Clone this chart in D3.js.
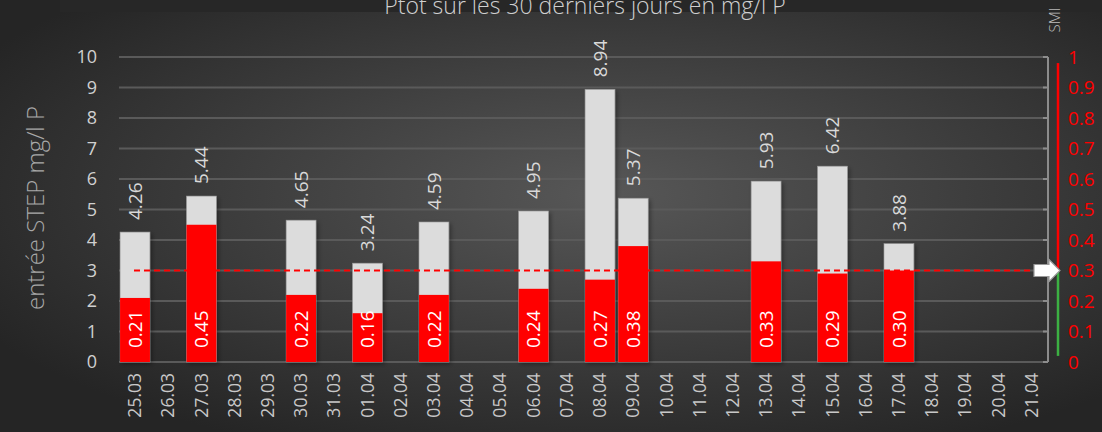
<!DOCTYPE html>
<html><head><meta charset="utf-8">
<script src="https://cdn.jsdelivr.net/npm/d3@7"></script>
<style>body{margin:0;background:#2a2a2a;}svg{display:block;}</style>
</head><body>
<svg id="c" width="1102" height="432"></svg>
<script>
const dates = ["25.03","26.03","27.03","28.03","29.03","30.03","31.03","01.04","02.04","03.04","04.04","05.04","06.04","07.04","08.04","09.04","10.04","11.04","12.04","13.04","14.04","15.04","16.04","17.04","18.04","19.04","20.04","21.04"];
const totals = [4.26,null,5.44,null,null,4.65,null,3.24,null,4.59,null,null,4.95,null,8.94,5.37,null,null,null,5.93,null,6.42,null,3.88,null,null,null,null];
const smi = [0.21,null,0.45,null,null,0.22,null,0.16,null,0.22,null,null,0.24,null,0.27,0.38,null,null,null,0.33,null,0.29,null,0.30,null,null,null,null];
const leftTicks = [0,1,2,3,4,5,6,7,8,9,10];
const rightTicks = [0,0.1,0.2,0.3,0.4,0.5,0.6,0.7,0.8,0.9,1];
const threshold = 0.3;

const svg = d3.select("#c");
const W=1102,H=432;
const defs = svg.append("defs");
const rg = defs.append("radialGradient").attr("id","bg").attr("cx","55%").attr("cy","45%").attr("r","65%");
rg.append("stop").attr("offset","0%").attr("stop-color","#575757");
rg.append("stop").attr("offset","100%").attr("stop-color","#252525");
svg.append("rect").attr("width",W).attr("height",H).attr("fill","url(#bg)");
const sh = defs.append("filter").attr("id","sh").attr("x","-20%").attr("y","-5%").attr("width","150%").attr("height","115%");
sh.append("feDropShadow").attr("dx",2).attr("dy",2).attr("stdDeviation",2).attr("flood-color","#000").attr("flood-opacity",0.35);

const font = "'Open Sans', 'Noto Sans', sans-serif";
const x = d3.scaleBand().domain(dates).range([118.4,1048.4]).paddingInner(0.1).paddingOuter(0.05);
const y = d3.scaleLinear().domain([0,10]).range([362,57]);
const yr = d3.scaleLinear().domain([0,1]).range([362,57]);

// title strip + title (cut at top like the reference)
svg.append("rect").attr("x",60).attr("y",0).attr("width",W-60).attr("height",12).attr("fill","#272727");
svg.append("text").attr("x",585).attr("y",14).attr("text-anchor","middle")
  .attr("font-family",font).attr("font-weight",300).attr("font-size",23).attr("fill","#cfcfcf").text("Ptot sur les 30 derniers jours en mg/l P");

// gridlines
svg.append("g").selectAll("line").data(leftTicks).join("line")
  .attr("x1",119).attr("x2",1046).attr("y1",d=>y(d)).attr("y2",d=>y(d))
  .attr("stroke","#5a5a5a").attr("stroke-width",2);

// left ticks
svg.append("g").selectAll("text").data(leftTicks).join("text")
  .attr("x",97).attr("y",d=>y(d)).attr("dy","0.35em").attr("text-anchor","end")
  .attr("font-family",font).attr("font-size",18).attr("fill","#d0d0d0").text(d=>d);

// y title
svg.append("text").attr("transform","translate(36,208) rotate(-90)").attr("dy","0.35em").attr("text-anchor","middle")
  .attr("font-family",font).attr("font-weight",300).attr("font-size",24).attr("fill","#a8a8a8").text("entrée STEP mg/l P");

const data = dates.map((d,i)=>({d,t:totals[i],s:smi[i]})).filter(o=>o.t!=null);
const bw = x.bandwidth();
// gray bars
svg.append("g").attr("filter","url(#sh)").selectAll("rect").data(data).join("rect")
  .attr("x",o=>x(o.d)).attr("width",bw).attr("y",o=>y(o.t)).attr("height",o=>y(0)-y(o.t))
  .attr("fill","#dcdcdc").attr("stroke","#9a9a9a").attr("stroke-width",0.6);
// red bars
svg.append("g").selectAll("rect").data(data).join("rect")
  .attr("x",o=>x(o.d)).attr("width",bw).attr("y",o=>yr(o.s)).attr("height",o=>yr(0)-yr(o.s))
  .attr("fill","#ff0000");

// threshold dashed
svg.append("line").attr("x1",x(dates[0])+bw/2-1).attr("x2",1034).attr("y1",yr(threshold)).attr("y2",yr(threshold))
  .attr("stroke","#ff0000").attr("stroke-width",2).attr("stroke-dasharray","6,4");

// total labels
svg.append("g").selectAll("text").data(data).join("text")
  .attr("transform",o=>`translate(${x(o.d)+bw/2},${y(o.t)-12}) rotate(-90)`)
  .attr("dy","0.35em").attr("text-anchor","start")
  .attr("font-family",font).attr("font-size",19).attr("fill","#d9d9d9").text(o=>o.t.toFixed(2));
// smi labels
svg.append("g").selectAll("text").data(data).join("text")
  .attr("transform",o=>`translate(${x(o.d)+bw/2},${y(0)-14}) rotate(-90)`)
  .attr("dy","0.35em").attr("text-anchor","start")
  .attr("font-family",font).attr("font-size",19).attr("fill","#ffffff").text(o=>o.s.toFixed(2));

// date labels
svg.append("g").selectAll("text").data(dates).join("text")
  .attr("transform",d=>`translate(${x(d)+bw/2},373) rotate(-90)`)
  .attr("dy","0.35em").attr("text-anchor","end")
  .attr("font-family",font).attr("font-size",17.5).attr("fill","#c8c8c8").text(d=>d);

// right axis bracket
const br = svg.append("g");
br.append("line").attr("x1",1048).attr("x2",1048).attr("y1",yr(1)).attr("y2",yr(0)).attr("stroke","#8c8c8c").attr("stroke-width",2);
br.selectAll("line.t").data(rightTicks).join("line").attr("class","t")
  .attr("x1",1043).attr("x2",1048).attr("y1",d=>yr(d)).attr("y2",d=>yr(d)).attr("stroke","#8c8c8c").attr("stroke-width",2);
// red/green scale line
svg.append("line").attr("x1",1058).attr("x2",1058).attr("y1",yr(0.98)).attr("y2",yr(threshold)).attr("stroke","#ff0000").attr("stroke-width",2.5);
svg.append("line").attr("x1",1058).attr("x2",1058).attr("y1",yr(threshold)).attr("y2",yr(0.02)).attr("stroke","#3cb043").attr("stroke-width",2.5);
// right ticks
svg.append("g").selectAll("text").data(rightTicks).join("text")
  .attr("x",1068).attr("y",d=>yr(d)).attr("dy","0.35em").attr("text-anchor","start")
  .attr("font-family",font).attr("font-size",19).attr("fill","#ff0000").text(d=>d);
// arrow
const ay = yr(threshold);
svg.append("path").attr("d",`M1034,${ay-6} L1049,${ay-6} L1049,${ay-11} L1060,${ay} L1049,${ay+11} L1049,${ay+6} L1034,${ay+6} Z`)
  .attr("fill","#ffffff").attr("stroke","#9a9a9a").attr("stroke-width",1.2);
// SMI label
svg.append("text").attr("transform","translate(1055,20) rotate(-90)").attr("dy","0.35em").attr("text-anchor","middle")
  .attr("font-family",font).attr("font-weight",300).attr("font-size",15).attr("fill","#bdbdbd").text("SMI");
</script>
</body></html>
